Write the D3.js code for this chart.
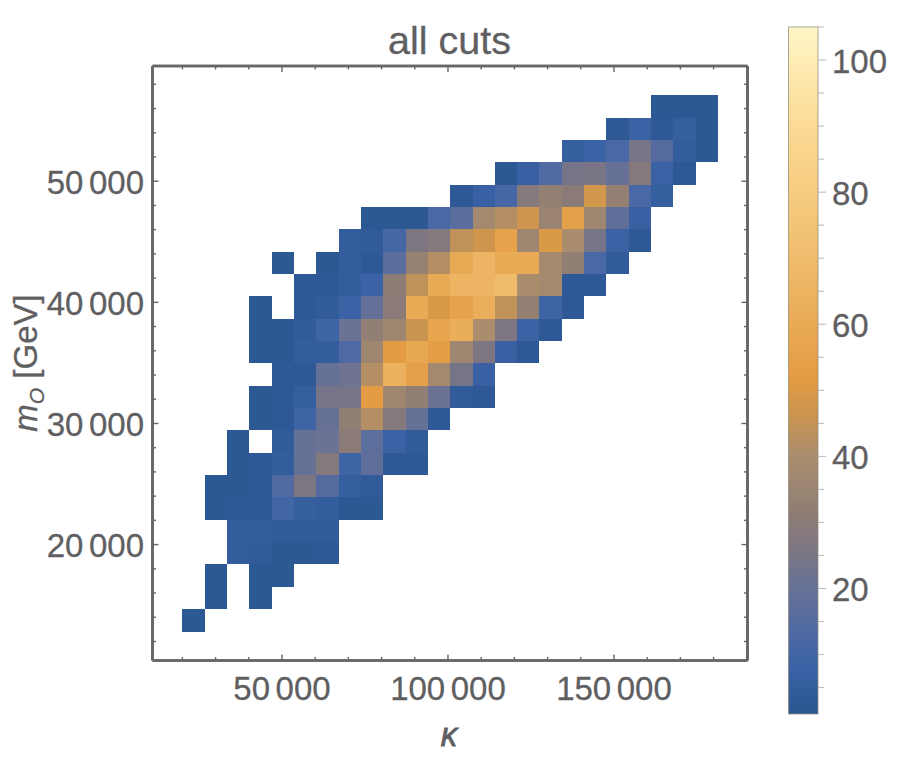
<!DOCTYPE html>
<html>
<head>
<meta charset="utf-8">
<script src="https://cdn.jsdelivr.net/npm/d3@7"></script>
<style>
html,body{margin:0;padding:0;background:#fff}
svg{display:block}
text{font-family:"Liberation Sans",Arial,sans-serif;fill:#5f5f62;stroke:#5f5f62;stroke-width:0.3px}
</style>
</head>
<body>
<svg id="c" width="899" height="772"></svg>
<script>
const titleText = "all cuts";
const kappaStart = 20000, kappaStep = 6723;
const massStart = 12822, massStep = 1845;
const xMajor = [50000, 100000, 150000];
const xMinor = [20000,30000,40000,60000,70000,80000,90000,110000,120000,130000,140000,160000,170000,180000,190000];
const yMajor = [20000, 30000, 40000, 50000];
const yMinor = [12000,14000,16000,18000,22000,24000,26000,28000,32000,34000,36000,38000,42000,44000,46000,48000,52000,54000,56000,58000];
const legendMajor = [20, 40, 60, 80, 100];
const legendMinor = [5,10,15,25,30,35,45,50,55,65,70,75,85,90,95,105];
const rampValues = [1, 8, 12, 20, 26, 32, 40, 46, 52, 60, 70, 80, 90, 100, 105];
const rampColors = ["#2a5690","#3a62a5","#4a68a6","#677196","#7d7682","#917e74","#aa8d6d","#c8944f","#e39c43","#e9aa55","#efbc6c","#f6cc80","#fbda95","#ffedb5","#fff6c9"];
// rows from bottom to top, columns from left to right, 0 = empty bin
const counts = [
 [2,0,0,0,0,0,0,0,0,0,0,0,0,0,0,0,0,0,0,0,0,0,0,0],
 [0,2,0,2,0,0,0,0,0,0,0,0,0,0,0,0,0,0,0,0,0,0,0,0],
 [0,2,0,2,2,0,0,0,0,0,0,0,0,0,0,0,0,0,0,0,0,0,0,0],
 [0,0,5,4,2,2,3,0,0,0,0,0,0,0,0,0,0,0,0,0,0,0,0,0],
 [0,0,5,5,4,4,4,0,0,0,0,0,0,0,0,0,0,0,0,0,0,0,0,0],
 [0,2,3,3,10,6,5,2,2,0,0,0,0,0,0,0,0,0,0,0,0,0,0,0],
 [0,2,2,3,14,26,15,6,4,0,0,0,0,0,0,0,0,0,0,0,0,0,0,0],
 [0,0,2,3,5,20,28,9,18,3,3,0,0,0,0,0,0,0,0,0,0,0,0,0],
 [0,0,2,0,4,20,21,30,17,8,4,0,0,0,0,0,0,0,0,0,0,0,0,0],
 [0,0,0,2,3,9,20,32,42,28,20,3,0,0,0,0,0,0,0,0,0,0,0,0],
 [0,0,0,2,3,6,24,24,52,36,32,21,4,3,0,0,0,0,0,0,0,0,0,0],
 [0,0,0,0,3,3,20,22,42,64,55,38,24,7,0,0,0,0,0,0,0,0,0,0],
 [0,0,0,2,2,5,5,13,36,52,58,53,36,26,7,3,0,0,0,0,0,0,0,0],
 [0,0,0,2,2,4,9,21,32,36,46,57,62,40,26,8,3,0,0,0,0,0,0,0],
 [0,0,0,2,0,3,4,8,19,30,60,50,56,63,44,33,9,3,0,0,0,0,0,0],
 [0,0,0,0,0,3,3,5,8,31,44,60,66,66,70,40,38,3,3,0,0,0,0,0],
 [0,0,0,0,2,0,2,5,3,16,34,42,60,66,60,60,38,32,12,4,0,0,0,0],
 [0,0,0,0,0,0,0,5,4,11,26,28,44,47,56,36,50,40,24,8,3,0,0,0],
 [0,0,0,0,0,0,0,0,2,2,2,12,16,38,42,47,35,55,36,18,7,0,0,0],
 [0,0,0,0,0,0,0,0,0,0,0,0,3,7,11,28,33,30,48,33,12,6,0,0],
 [0,0,0,0,0,0,0,0,0,0,0,0,0,0,2,7,14,24,25,20,28,8,3,0],
 [0,0,0,0,0,0,0,0,0,0,0,0,0,0,0,0,0,6,8,12,24,15,5,2],
 [0,0,0,0,0,0,0,0,0,0,0,0,0,0,0,0,0,0,0,3,8,3,6,2],
 [0,0,0,0,0,0,0,0,0,0,0,0,0,0,0,0,0,0,0,0,0,2,2,2]
];

const frame = {left:152.5, right:747.5, top:66, bottom:660.5};
const bar = {left:788.5, right:818, top:27, bottom:714};
const ink = "#666668";
const svg = d3.select("#c");
const x = d3.scaleLinear().domain([11000,190220]).range([frame.left,frame.right]);
const y = d3.scaleLinear().domain([10430,59513]).range([frame.bottom,frame.top]);
const color = d3.scaleLinear().domain(rampValues).range(rampColors).interpolate(d3.interpolateRgb).clamp(true);
const fmt = d => String(d).replace(/(\d{3})$/, "\u2006$1");

// heat cells
const cells = counts.flatMap((row,j) => row.map((v,i) => ({i,j,v}))).filter(d => d.v > 0);
svg.append("g").attr("shape-rendering","crispEdges").selectAll("rect").data(cells).join("rect")
  .attr("x", d => x(kappaStart + d.i*kappaStep))
  .attr("width", d => x(kappaStart + (d.i+1)*kappaStep) - x(kappaStart + d.i*kappaStep))
  .attr("y", d => y(massStart + (d.j+1)*massStep))
  .attr("height", d => y(massStart + d.j*massStep) - y(massStart + (d.j+1)*massStep))
  .attr("fill", d => color(d.v));

// frame axes
function style(g, w){
  g.selectAll(".domain").attr("stroke",ink).attr("stroke-width",w);
  g.selectAll(".tick line").attr("stroke",ink).attr("stroke-width",1.4);
}
function addAxis(fn, scale, tr, vals, size, labels){
  const ax = fn(scale).offset(0).tickValues(vals).tickSizeOuter(0).tickSizeInner(-size).tickPadding(labels?17:0);
  ax.tickFormat(labels ? fmt : () => "");
  const g = svg.append("g").attr("transform",tr).call(ax);
  style(g, 2.6);
  g.selectAll("text").style("font-size","33px").attr("font-family",null);
  return g;
}
addAxis(d3.axisBottom, x, `translate(0,${frame.bottom})`, xMinor, 3.5, false);
addAxis(d3.axisBottom, x, `translate(0,${frame.bottom})`, xMajor, 6, true).selectAll("text").attr("y",16);
addAxis(d3.axisTop, x, `translate(0,${frame.top})`, xMinor, 3.5, false);
addAxis(d3.axisTop, x, `translate(0,${frame.top})`, xMajor, 6, false);
addAxis(d3.axisLeft, y, `translate(${frame.left},0)`, yMinor, 3.5, false);
addAxis(d3.axisLeft, y, `translate(${frame.left},0)`, yMajor, 6, true).selectAll("text").attr("x",-8.5).attr("dy","0.38em");
addAxis(d3.axisRight, y, `translate(${frame.right},0)`, yMinor, 3.5, false);
addAxis(d3.axisRight, y, `translate(${frame.right},0)`, yMajor, 6, false);

// titles
svg.append("text").attr("x",449.5).attr("y",54).attr("text-anchor","middle").style("font-size","39.5px").text(titleText);
svg.append("text").attr("x",449).attr("y",746).attr("text-anchor","middle")
  .style("font-size","33px").style("font-style","italic").style("stroke-width","0.8px").text("κ");
const yl = svg.append("text").attr("transform","translate(37,363) rotate(-90)").attr("text-anchor","middle").style("font-size","33px");
yl.append("tspan").style("font-style","italic").text("m");
yl.append("tspan").style("font-style","italic").style("font-size","21px").attr("dy",7).text("O");
yl.append("tspan").attr("dy",-7).text(" [GeV]");

// colour bar
const ly = d3.scaleLinear().domain([1,105]).range([bar.bottom,bar.top]);
const grad = svg.append("defs").append("linearGradient").attr("id","ramp").attr("x1",0).attr("x2",0).attr("y1",1).attr("y2",0);
grad.selectAll("stop").data(rampValues).join("stop")
  .attr("offset", d => (d-1)/104).attr("stop-color", d => color(d));
svg.append("rect").attr("x",bar.left).attr("y",bar.top).attr("width",bar.right-bar.left).attr("height",bar.bottom-bar.top)
  .attr("fill","url(#ramp)").attr("stroke","#8f8a7c").attr("stroke-width",1).attr("stroke-opacity",0.75);
const lm = svg.append("g").attr("transform",`translate(${bar.right},0)`)
  .call(d3.axisRight(ly).offset(0).tickValues(legendMinor).tickSizeOuter(0).tickSize(6).tickFormat(() => ""));
lm.select(".domain").remove();
lm.selectAll(".tick line").attr("stroke","#b8b8b8");
const lM = svg.append("g").attr("transform",`translate(${bar.right},0)`)
  .call(d3.axisRight(ly).offset(0).tickValues(legendMajor).tickSizeOuter(0).tickSize(8).tickPadding(6));
lM.select(".domain").remove();
lM.selectAll(".tick line").attr("stroke","#b8b8b8");
lM.selectAll("text").style("font-size","33px").attr("font-family",null).attr("dy","0.38em");
svg.selectAll("g").attr("font-family",null);
</script>
</body>
</html>
